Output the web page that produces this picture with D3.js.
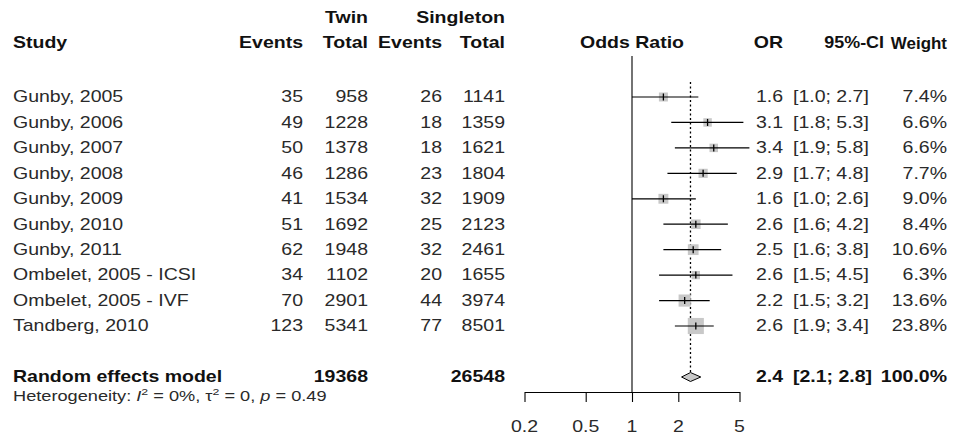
<!DOCTYPE html>
<html><head><meta charset="utf-8">
<script src="https://cdn.jsdelivr.net/npm/d3@7"></script>
<style>body{margin:0;background:#fff}svg{display:block}</style>
</head><body>
<svg id="c" width="955" height="441"></svg>
<script>
const studies = ["Gunby, 2005","Gunby, 2006","Gunby, 2007","Gunby, 2008","Gunby, 2009","Gunby, 2010","Gunby, 2011","Ombelet, 2005 - ICSI","Ombelet, 2005 - IVF","Tandberg, 2010"];
const twinEvents = [35,49,50,46,41,51,62,34,70,123];
const twinTotal = [958,1228,1378,1286,1534,1692,1948,1102,2901,5341];
const singEvents = [26,18,18,23,32,25,32,20,44,77];
const singTotal = [1141,1359,1621,1804,1909,2123,2461,1655,3974,8501];
const orVal = [1.6,3.1,3.4,2.9,1.6,2.6,2.5,2.6,2.2,2.6];
const ciLow = [1.0,1.8,1.9,1.7,1.0,1.6,1.6,1.5,1.5,1.9];
const ciHigh = [2.7,5.3,5.8,4.8,2.6,4.2,3.8,4.5,3.2,3.4];
const weights = [7.4,6.6,6.6,7.7,9.0,8.4,10.6,6.3,13.6,23.8];
const pooled = {label:"Random effects model", twinTotal:19368, singTotal:26548, or:2.4, lo:2.1, hi:2.8, w:"100.0%"};
const tickVals = [0.2,0.5,1,2,5];
const tickLabels = ["0.2","0.5","1","2","5"];

const svg = d3.select("#c");
const SX = 1.22, FS = 16;
const x = d3.scaleLog().domain([0.2,5]).range([524.5,739.5]);
const y = d3.scaleLinear().domain([0,9]).range([97,326]);
const yPool = 377;

function txt(px, py, s, o={}) {
  const t = svg.append("text")
    .attr("transform", `translate(${px},${py}) scale(${o.sx||SX},1)`)
    .attr("text-anchor", o.anchor||"start")
    .attr("dominant-baseline","central")
    .style("font-family","'Liberation Sans', Arial, sans-serif")
    .style("font-size",(o.size||FS)+"px")
    .style("font-weight", o.bold?"bold":"normal")
    .style("fill", o.bold?"#111":"#2a2a2a")
    .text(s);
  return t;
}

// headers
txt(368,18,"Twin",{anchor:"end",bold:true});
txt(505,18,"Singleton",{anchor:"end",bold:true});
txt(13,43,"Study",{bold:true});
txt(303,43,"Events",{anchor:"end",bold:true});
txt(368,43,"Total",{anchor:"end",bold:true});
txt(442,43,"Events",{anchor:"end",bold:true});
txt(505,43,"Total",{anchor:"end",bold:true});
txt(x(1),43,"Odds Ratio",{anchor:"middle",bold:true});
txt(783,43,"OR",{anchor:"end",bold:true});
txt(884,43,"95%-CI",{anchor:"end",bold:true,sx:1.12});
txt(947,43,"Weight",{anchor:"end",bold:true,sx:1.06});

// reference lines
svg.append("line").attr("x1",x(1)).attr("x2",x(1)).attr("y1",56).attr("y2",392)
  .attr("stroke","#000").attr("stroke-width",1.1);
svg.append("line").attr("x1",x(pooled.or)).attr("x2",x(pooled.or)).attr("y1",82).attr("y2",373)
  .attr("stroke","#000").attr("stroke-width",1.3).attr("stroke-dasharray","2,2.5");

// study rows
studies.forEach((s,i)=>{
  const yy = y(i);
  txt(13,yy,s);
  txt(303,yy,String(twinEvents[i]),{anchor:"end"});
  txt(368,yy,String(twinTotal[i]),{anchor:"end"});
  txt(442,yy,String(singEvents[i]),{anchor:"end"});
  txt(505,yy,String(singTotal[i]),{anchor:"end"});
  txt(783,yy,orVal[i].toFixed(1),{anchor:"end"});
  txt(793,yy,`[${ciLow[i].toFixed(1)}; ${ciHigh[i].toFixed(1)}]`);
  txt(947,yy,weights[i].toFixed(1)+"%",{anchor:"end"});
  const side = 3.3*Math.sqrt(weights[i]);
  const cx = x(orVal[i]);
  svg.append("rect").attr("x",cx-side/2).attr("y",yy-side/2).attr("width",side).attr("height",side)
    .attr("fill","#c8c8c8");
  svg.append("line").attr("x1",x(ciLow[i])).attr("x2",x(ciHigh[i])).attr("y1",yy).attr("y2",yy)
    .attr("stroke","#000").attr("stroke-width",1.2);
  svg.append("line").attr("x1",cx).attr("x2",cx).attr("y1",yy-3.5).attr("y2",yy+3.5)
    .attr("stroke","#000").attr("stroke-width",1.3);
});

// pooled
txt(13,yPool,pooled.label,{bold:true});
txt(368,yPool,String(pooled.twinTotal),{anchor:"end",bold:true});
txt(505,yPool,String(pooled.singTotal),{anchor:"end",bold:true});
txt(783,yPool,pooled.or.toFixed(1),{anchor:"end",bold:true});
txt(793,yPool,`[${pooled.lo.toFixed(1)}; ${pooled.hi.toFixed(1)}]`,{bold:true});
txt(947,yPool,pooled.w,{anchor:"end",bold:true});
const dh = 4.5;
svg.append("path")
  .attr("d",`M${x(pooled.lo)},${yPool} L${x(pooled.or)},${yPool-dh} L${x(pooled.hi)},${yPool} L${x(pooled.or)},${yPool+dh} Z`)
  .attr("fill","#c8c8c8").attr("stroke","#000").attr("stroke-width",1);

// heterogeneity
const het = txt(13,396,"",{size:14,sx:1.3});
het.append("tspan").text("Heterogeneity: ");
het.append("tspan").style("font-style","italic").text("I");
het.append("tspan").attr("dy",-4).style("font-size","9.5px").text("2");
het.append("tspan").attr("dy",4).text(" = 0%, τ");
het.append("tspan").attr("dy",-4).style("font-size","9.5px").text("2");
het.append("tspan").attr("dy",4).text(" = 0, ");
het.append("tspan").style("font-style","italic").text("p");
het.append("tspan").text(" = 0.49");

// axis
const ag = svg.append("g").attr("transform","translate(0,392)");
ag.call(d3.axisBottom(x).tickValues(tickVals).tickSize(10).tickSizeOuter(0).tickFormat(()=>""));
ag.select(".domain").attr("stroke","#000").attr("stroke-width",1.1);
ag.selectAll(".tick line").attr("stroke","#000").attr("stroke-width",1.1);
tickVals.forEach((v,i)=>txt(x(v),427,tickLabels[i],{anchor:"middle"}));
</script>
</body></html>
